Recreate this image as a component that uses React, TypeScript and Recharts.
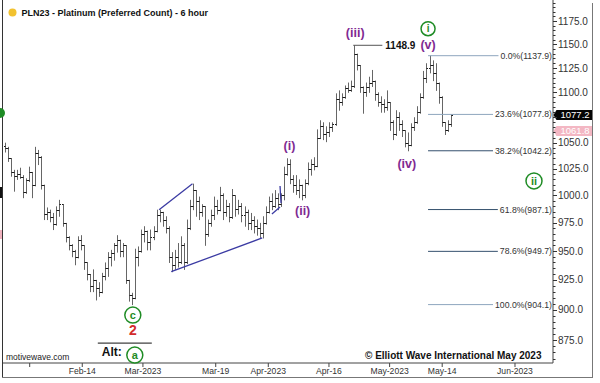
import React from 'react';
import { ComposedChart, Bar, XAxis, YAxis, ReferenceLine, ReferenceDot } from 'recharts';

const FONT = '"Liberation Sans", Arial, Helvetica, sans-serif';
const PURPLE = '#7f2a92';
const GREEN = '#1f8c25';
const WEDGE = '#3b3ba3';

// bars every 18 hours, x value = days counted from 1 Jan 2023
const firstBarDay = 24.75;
const barStep = 0.75;

const opens = [
  1047, 1045, 1035, 1022, 1018, 1020, 1017, 1003, 1014, 1022,
  1010, 1040, 1036, 1010, 983, 985, 980, 974, 987, 992,
  975, 962, 955, 950, 945, 960, 955, 940, 930, 920,
  925, 918, 915, 928, 935, 945, 948, 955, 960, 950,
  955, 925, 912, 910, 945, 950, 965, 968, 958, 962,
  968, 982, 985, 978, 970, 945, 938, 945, 940, 955,
  940, 970, 990, 1005, 995, 985, 990, 965, 975, 982,
  990, 987, 1000, 985, 990, 980, 1000, 988, 990, 982,
  985, 975, 978, 972, 970, 966, 975, 985, 995, 990,
  998, 992, 1000, 1020, 1030, 1015, 1010, 1005, 1010, 1000,
  1012, 1025, 1030, 1028, 1055, 1066, 1058, 1060, 1065, 1068,
  1093, 1090, 1095, 1104, 1102, 1106, 1140, 1128, 1105, 1100,
  1105, 1110, 1112, 1098, 1090, 1088, 1085, 1090, 1070, 1058,
  1075, 1068, 1062, 1050, 1048, 1065, 1070, 1080, 1095, 1115,
  1125, 1128, 1120, 1110, 1095, 1070, 1062, 1068,
];
const highs = [
  1050, 1046, 1035, 1024, 1024, 1026, 1019, 1016, 1027, 1022,
  1046, 1043, 1037, 1010, 989, 987, 984, 990, 996, 992,
  975, 963, 956, 951, 963, 964, 955, 940, 930, 934,
  925, 923, 931, 940, 949, 951, 957, 964, 960, 957,
  955, 925, 914, 952, 954, 969, 972, 968, 969, 972,
  987, 987, 985, 981, 972, 949, 951, 957, 963, 957,
  978, 996, 1011, 1005, 999, 992, 990, 978, 987, 999,
  996, 1008, 1002, 996, 993, 1006, 1000, 996, 993, 990,
  987, 984, 981, 978, 975, 981, 990, 999, 1002, 1005,
  1002, 1002, 1027, 1035, 1034, 1019, 1019, 1015, 1010, 1015,
  1031, 1034, 1036, 1063, 1072, 1070, 1066, 1070, 1070, 1099,
  1102, 1099, 1107, 1110, 1112, 1148.9, 1140, 1128, 1106, 1110,
  1116, 1123, 1112, 1100, 1096, 1093, 1102, 1090, 1072, 1082,
  1080, 1072, 1062, 1060, 1069, 1075, 1086, 1099, 1122, 1130,
  1137.9, 1133, 1130, 1110, 1096, 1070, 1072, 1078,
];
const lows = [
  1041, 1032, 1018, 1004, 1015, 1016, 998, 1002, 1013, 998,
  1009, 1029, 1006, 978, 978, 976, 969, 973, 981, 972,
  958, 951, 945, 938, 944, 951, 934, 925, 915, 915,
  908, 911, 914, 925, 928, 937, 942, 949, 945, 945,
  922, 907, 904.1, 909, 937, 949, 958, 951, 951, 960,
  967, 976, 972, 966, 940, 932, 934, 936, 939, 934,
  939, 969, 987, 981, 978, 981, 955, 963, 972, 978,
  983, 986, 978, 981, 976, 979, 981, 983, 976, 972,
  969, 969, 966, 964, 962, 961.5, 974, 984, 987, 989,
  987, 990, 996, 1019, 1011, 1003, 1001, 998, 996, 998,
  1010, 1019, 1024, 1027, 1054, 1053, 1051, 1056, 1061, 1067,
  1082, 1087, 1094, 1100, 1101, 1105, 1123, 1100, 1079, 1096,
  1100, 1106, 1092, 1086, 1080, 1080, 1082, 1062, 1053, 1057,
  1062, 1056, 1046, 1042.2, 1047, 1062, 1069, 1079, 1094, 1110,
  1120, 1112, 1102, 1089, 1066, 1058, 1061, 1066,
];
const closes = [
  1045, 1035, 1022, 1018, 1020, 1017, 1003, 1014, 1022, 1010,
  1040, 1036, 1010, 983, 985, 980, 974, 987, 992, 975,
  962, 955, 950, 945, 960, 955, 940, 930, 920, 925,
  918, 915, 928, 935, 945, 948, 955, 960, 950, 955,
  925, 912, 910, 945, 950, 965, 968, 958, 962, 968,
  982, 985, 978, 970, 945, 938, 945, 940, 955, 940,
  970, 990, 1005, 995, 985, 990, 965, 975, 982, 990,
  987, 1000, 985, 990, 980, 1000, 988, 990, 982, 985,
  975, 978, 972, 970, 966, 975, 985, 995, 990, 998,
  992, 1000, 1020, 1030, 1015, 1010, 1005, 1010, 1000, 1012,
  1025, 1030, 1028, 1055, 1066, 1058, 1060, 1065, 1068, 1093,
  1090, 1095, 1104, 1102, 1106, 1140, 1128, 1105, 1100, 1105,
  1110, 1112, 1098, 1090, 1088, 1085, 1090, 1070, 1058, 1075,
  1068, 1062, 1050, 1048, 1065, 1070, 1080, 1095, 1115, 1125,
  1128, 1120, 1110, 1095, 1070, 1062, 1068, 1077.2,
];

const bars = closes.map((c, i) => ({
  day: firstBarDay + i * barStep,
  open: opens[i],
  high: highs[i],
  low: lows[i],
  close: c,
}));

const dateTicks = [31, 44, 59, 77, 90, 105, 120, 133, 151];
const dateLabels = ['', 'Feb-14', 'Mar-2023', 'Mar-19', 'Apr-2023', 'Apr-16', 'May-2023', 'May-14', 'Jun-2023'];

const majorPrices = [875, 900, 925, 950, 975, 1000, 1025, 1050, 1075, 1100, 1125, 1150, 1175];
const priceTicks: number[] = [];
for (let v = 860; v <= 1195; v += 5) priceTicks.push(v);

const fibPcts = ['0.0%', '23.6%', '38.2%', '61.8%', '78.6%', '100.0%'];
const fibValues = [1137.9, 1077.8, 1042.2, 987.1, 949.7, 904.1];
const fibLight = [true, true, false, false, false, true];
const fibStartDay = 129.5;
const labelEdgeDay = 160.15;

const lastPrice = 1077.2;
const otherPrice = 1061.8;
const peakPrice = 1148.9;
const peakDay = 111;

// wedge / trend lines drawn on the chart
const trendLines = [
  [{ x: 63, y: 987 }, { x: 71.25, y: 1011 }],
  [{ x: 66, y: 932 }, { x: 88.5, y: 961.5 }],
  [{ x: 90.9, y: 983 }, { x: 92.9, y: 989.5 }],
  [{ x: 92.9, y: 1008.8 }, { x: 93.15, y: 993 }],
];

// wave labels, anchored at a bar (or a projected spot), offsets in px
const waveLabels = [
  { day: 111, price: 1148.9, text: '(iii)', kind: 'minute', dx: 2, dy: -12, r: 0 },
  { day: 129.75, price: 1137.9, text: '(v)', kind: 'minute', dx: -1, dy: -11, r: 0 },
  { day: 129.75, price: 1137.9, text: 'i', kind: 'minor', dx: -1, dy: -27, r: 7 },
  { day: 124.5, price: 1042.2, text: '(iv)', kind: 'minute', dx: -1, dy: 13, r: 0 },
  { day: 94.5, price: 1035, text: '(i)', kind: 'minute', dx: 3, dy: -12, r: 0 },
  { day: 98.25, price: 996, text: '(ii)', kind: 'minute', dx: 1, dy: 11, r: 0 },
  { day: 56.25, price: 904.1, text: 'c', kind: 'minor', dx: 1, dy: 10.5, r: 8 },
  { day: 56.25, price: 904.1, text: '2', kind: 'intermediate', dx: 1, dy: 25.5, r: 0 },
  { day: 155.7, price: 1013.6, text: 'ii', kind: 'minor', dx: 0, dy: 0, r: 8 },
];

let measureCtx: CanvasRenderingContext2D | null = null;
function textWidth(s: string, size: number) {
  if (!measureCtx) measureCtx = document.createElement('canvas').getContext('2d');
  if (!measureCtx) return s.length * size * 0.5;
  measureCtx.font = `${size}px ${FONT}`;
  return measureCtx.measureText(s).width;
}

function OhlcBar(props: any) {
  const { x, y, width, height, payload } = props;
  if (!payload) return null;
  const cx = Math.round(x + width / 2) + 0.5;
  const top = Math.min(y, y + height);
  const bottom = Math.max(y, y + height);
  const lh = Math.log(payload.high);
  const ll = Math.log(payload.low);
  const at = (v: number) => (lh === ll ? top : top + ((bottom - top) * (lh - Math.log(v))) / (lh - ll));
  const yo = Math.round(at(payload.open)) + 0.5;
  const yc = Math.round(at(payload.close)) + 0.5;
  return (
    <g>
      <line x1={cx} x2={cx} y1={top} y2={bottom + 0.5} stroke="#666" strokeWidth={1} />
      <line x1={cx - 1.5} x2={cx} y1={yo} y2={yo} stroke="#1a1a1a" strokeWidth={1} />
      <line x1={cx} x2={cx + 1.5} y1={yc} y2={yc} stroke="#1a1a1a" strokeWidth={1} />
    </g>
  );
}

// the last-price tag covers the axis label beneath it
const coveredByTag = (v: number) => Math.abs(Math.log(v / lastPrice)) < 0.006;

function PriceTick(props: any) {
  const { x, y, payload } = props;
  const v = payload.value;
  const major = majorPrices.includes(v);
  return (
    <g>
      <line x1={x} x2={x + (major ? 4 : 2.5)} y1={Math.round(y) + 0.5} y2={Math.round(y) + 0.5} stroke="#333" />
      {major && !coveredByTag(v) && (
        <text x={x + 5} y={y} dy="0.36em" fontSize={10} fill="#333" fontFamily={FONT}>
          {v.toFixed(1)}
        </text>
      )}
    </g>
  );
}

function WaveMark({ cx, cy, m }: any) {
  const x = cx + m.dx;
  const y = cy + m.dy;
  if (m.kind === 'minute') {
    return (
      <text x={x} y={y} textAnchor="middle" dominantBaseline="central" fontSize={12.5} fontWeight="bold" fill={PURPLE} fontFamily={FONT}>
        {m.text}
      </text>
    );
  }
  if (m.kind === 'minor') {
    return (
      <g>
        <circle cx={x} cy={y} r={m.r} fill="#fff" stroke={GREEN} strokeWidth={1.5} />
        <text x={x} y={y} textAnchor="middle" dominantBaseline="central" fontSize={m.r > 7 ? 11 : 10} fontWeight="bold" fill={GREEN} fontFamily={FONT}>
          {m.text}
        </text>
      </g>
    );
  }
  return (
    <text x={x} y={y} textAnchor="middle" dominantBaseline="central" fontSize={14} fontWeight="bold" fill="#d22b2b" fontFamily={FONT}>
      {m.text}
    </text>
  );
}

function AltMark({ cx, cy }: any) {
  return (
    <g fontFamily={FONT}>
      <line x1={cx - 34} x2={cx + 20} y1={cy + 38.5} y2={cy + 38.5} stroke="#111" strokeWidth={1} />
      <text x={cx - 20} y={cy + 47} textAnchor="middle" dominantBaseline="central" fontSize={12} fontWeight="bold" fill="#111">
        Alt:
      </text>
      <circle cx={cx + 3} cy={cy + 50.5} r={8} fill="#fff" stroke={GREEN} strokeWidth={1.5} />
      <text x={cx + 3} y={cy + 50.5} textAnchor="middle" dominantBaseline="central" fontSize={11} fontWeight="bold" fill={GREEN}>
        a
      </text>
    </g>
  );
}

function FibLabel({ cx, cy, text }: any) {
  const w = textWidth(text, 8.7);
  return (
    <g>
      <rect x={cx - w - 2} y={cy - 4} width={w + 2} height={8} fill="#fff" />
      <text x={cx} y={cy} dy="0.35em" textAnchor="end" fontSize={8.7} fill="#333" fontFamily={FONT}>
        {text}
      </text>
    </g>
  );
}

function PriceTag({ cx, cy, text, fill }: any) {
  const left = Math.round(cx) + 0.5;
  const y = Math.round(cy);
  return (
    <g>
      <path d={`M${left} ${y} L${left + 3} ${y - 5} H${left + 39} V${y + 5} H${left + 3} Z`} fill={fill} />
      <text x={left + 7} y={y} dy="0.35em" fontSize={9.5} fill="#fff" fontFamily={FONT}>
        {text}
      </text>
    </g>
  );
}

export default function App() {
  return (
    <div style={{ position: 'absolute', left: 0, top: 0, width: 600, height: 383, background: '#fff' }}>
      <ComposedChart width={600} height={383} data={bars} margin={{ top: 0, right: 8, bottom: 6, left: 3 }}>
        <XAxis
          type="number"
          dataKey="day"
          domain={[24.4, 160.4]}
          allowDataOverflow
          ticks={dateTicks}
          interval={0}
          tickFormatter={(v: number) => dateLabels[dateTicks.indexOf(v)] ?? ''}
          tickSize={4}
          tickMargin={1}
          height={14}
          stroke="#444"
          tick={{ fontSize: 8.6, fill: '#333', fontFamily: FONT }}
        />
        <YAxis
          orientation="right"
          type="number"
          scale="log"
          domain={[856.6, 1198]}
          allowDataOverflow
          ticks={priceTicks}
          interval={0}
          tick={<PriceTick />}
          tickLine={false}
          tickSize={0}
          tickMargin={0}
          width={39}
          stroke="#444"
        />
        <Bar dataKey={(d: any) => [d.low, d.high]} barSize={2} shape={<OhlcBar />} isAnimationActive={false} />

        {trendLines.map((seg, i) => (
          <ReferenceLine key={`t${i}`} segment={seg} stroke={WEDGE} strokeWidth={1.3} />
        ))}

        {fibValues.map((v, i) => (
          <ReferenceLine
            key={`f${i}`}
            segment={[{ x: fibStartDay, y: v }, { x: labelEdgeDay, y: v }]}
            stroke={fibLight[i] ? '#8ea6be' : '#34506d'}
            strokeWidth={1}
          />
        ))}
        {fibValues.map((v, i) => (
          <ReferenceDot
            key={`fl${i}`}
            x={labelEdgeDay}
            y={v}
            r={1}
            shape={(p: any) => <FibLabel {...p} text={`${fibPcts[i]}(${v.toFixed(1)})`} />}
          />
        ))}

        <ReferenceLine segment={[{ x: peakDay, y: peakPrice }, { x: 118.2, y: peakPrice }]} stroke="#555" strokeWidth={1} />
        <ReferenceDot
          x={118.2}
          y={peakPrice}
          r={1}
          shape={(p: any) => (
            <text x={p.cx + 3} y={p.cy} dy="0.36em" fontSize={10} fontWeight="bold" fill="#111" fontFamily={FONT}>
              {peakPrice.toFixed(1)}
            </text>
          )}
        />

        {waveLabels.map((m, i) => (
          <ReferenceDot key={`w${i}`} x={m.day} y={m.price} r={1} shape={(p: any) => <WaveMark {...p} m={m} />} />
        ))}
        <ReferenceDot x={56.25} y={904.1} r={1} shape={(p: any) => <AltMark {...p} />} />

        <ReferenceDot x={160.38} y={lastPrice} r={1} shape={(p: any) => <PriceTag {...p} text={lastPrice.toFixed(1)} fill="#050505" />} />
        <ReferenceDot x={160.38} y={otherPrice} r={1} shape={(p: any) => <PriceTag {...p} text={otherPrice.toFixed(1)} fill="#f3b7c3" />} />
      </ComposedChart>

      <svg width={600} height={383} style={{ position: 'absolute', left: 0, top: 0, pointerEvents: 'none' }} fontFamily={FONT}>
        <line x1={2.5} y1={0} x2={2.5} y2={377} stroke="#333" />
        <line x1={2} y1={377.5} x2={593} y2={377.5} stroke="#777" />
        <line x1={592.5} y1={3} x2={592.5} y2={377.5} stroke="#777" />
        <path d="M0 108 A5 5 0 0 1 0 118 Z" fill={GREEN} />
        <rect x={0} y={187} width={2} height={11} fill="#111" />
        <rect x={0} y={230} width={2} height={9} fill="#f0b3bf" />
        <circle cx={12.5} cy={12.5} r={4} fill="#f2c230" />
        <text x={21.5} y={15.8} fontSize={9} fontWeight="bold" fill="#111">
          PLN23 - Platinum (Preferred Count) - 6 hour
        </text>
        <text x={6} y={360} fontSize={8.5} fill="#222">
          motivewave.com
        </text>
        <text x={365} y={358.5} fontSize={10} fontWeight="bold" fill="#111">
          © Elliott Wave International May 2023
        </text>
      </svg>
    </div>
  );
}
